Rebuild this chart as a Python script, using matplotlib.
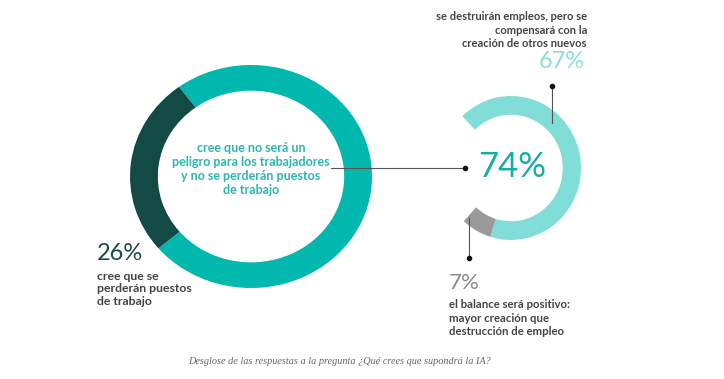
import matplotlib.pyplot as plt

# datos
big_values = [74, 26]
big_colors = ["#00B8AE", "#134A45"]
small_values = [67, 7, 26]
small_colors = ["#80DDD8", "#9A9A9A", "none"]

pct_main = "74%"
pct_lost = "26%"
pct_comp = "67%"
pct_pos = "7%"
txt_main = "cree que no será un\npeligro para los trabajadores\ny no se perderán puestos\nde trabajo"
txt_lost = "cree que se\nperderán puestos\nde trabajo"
txt_comp = "se destruirán empleos, pero se\ncompensará con la\ncreación de otros nuevos"
txt_pos = "el balance será positivo:\nmayor creación que\ndestrucción de empleo"
caption = "Desglose de las respuestas a la pregunta ¿Qué crees que supondrá la IA?"

W, H = 724, 379
fig = plt.figure(figsize=(W / 100, H / 100), dpi=100)
fig.patch.set_facecolor("white")


def px_axes(x0, y0, x1, y1):
    # caja en pixeles (y hacia abajo) -> fracciones de figura
    return fig.add_axes([x0 / W, (H - y1) / H, (x1 - x0) / W, (y1 - y0) / H])


# donut grande
ax1 = px_axes(130, 65, 372, 288)
ax1.pie(big_values, colors=big_colors, startangle=126.5, counterclock=False,
        wedgeprops=dict(width=0.23, linewidth=0))
ax1.set_aspect("auto")
ax1.set_xlim(-1, 1)
ax1.set_ylim(-1, 1)
ax1.axis("off")

# donut pequeño
ax2 = px_axes(441, 96, 581, 240)
ax2.pie(small_values, colors=small_colors, startangle=134, counterclock=False,
        wedgeprops=dict(width=0.26, linewidth=0))
ax2.set_aspect("auto")
ax2.set_xlim(-1, 1)
ax2.set_ylim(-1, 1)
ax2.axis("off")

# capa de textos y lineas en pixeles
ax = fig.add_axes([0, 0, 1, 1])
ax.set_xlim(0, W)
ax.set_ylim(H, 0)
ax.axis("off")
ax.patch.set_alpha(0)

sans = "Lato"
dark = "#444444"

ax.text(251, 169, txt_main, ha="center", va="center", fontsize=9, fontfamily=sans,
        fontweight="bold", color="#2DB6AE", linespacing=1.2)
ax.text(512, 167, pct_main, ha="center", va="center", fontsize=25, fontfamily=sans,
        fontweight="normal", color="#17ADA4")
ax.text(97, 254, pct_lost, ha="left", va="center", fontsize=17, fontfamily=sans,
        fontweight="normal", color="#1D4A47")
ax.text(97, 289, txt_lost, ha="left", va="center", fontsize=8.8, fontfamily=sans,
        fontweight="bold", color=dark, linespacing=1.15)
ax.text(587, 30, txt_comp, ha="right", va="center", multialignment="right", fontsize=8,
        fontfamily=sans, fontweight="bold", color=dark, linespacing=1.3)
ax.text(585, 62, pct_comp, ha="right", va="center", fontsize=17, fontfamily=sans,
        fontweight="normal", color="#8EDDD8")
ax.text(449, 283, pct_pos, ha="left", va="center", fontsize=16, fontfamily=sans,
        fontweight="normal", color="#8A8A8A")
ax.text(449, 318, txt_pos, ha="left", va="center", fontsize=8.2, fontfamily=sans,
        fontweight="bold", color=dark, linespacing=1.3)
ax.text(339, 362, caption, ha="center", va="center", fontsize=7.4,
        fontfamily="Liberation Serif", style="italic", color="#666666")

# lineas guia
ax.plot([331, 465], [168, 168], color="#555555", lw=0.8)
ax.plot([465], [168], "o", color="#111111", ms=3)
ax.plot([552, 552], [86, 123], color="#555555", lw=0.8)
ax.plot([552], [86], "o", color="#111111", ms=3)
ax.plot([469, 469], [218, 258], color="#555555", lw=0.8)
ax.plot([469], [258], "o", color="#111111", ms=3)

fig.savefig("out.png", dpi=100, facecolor="white")
